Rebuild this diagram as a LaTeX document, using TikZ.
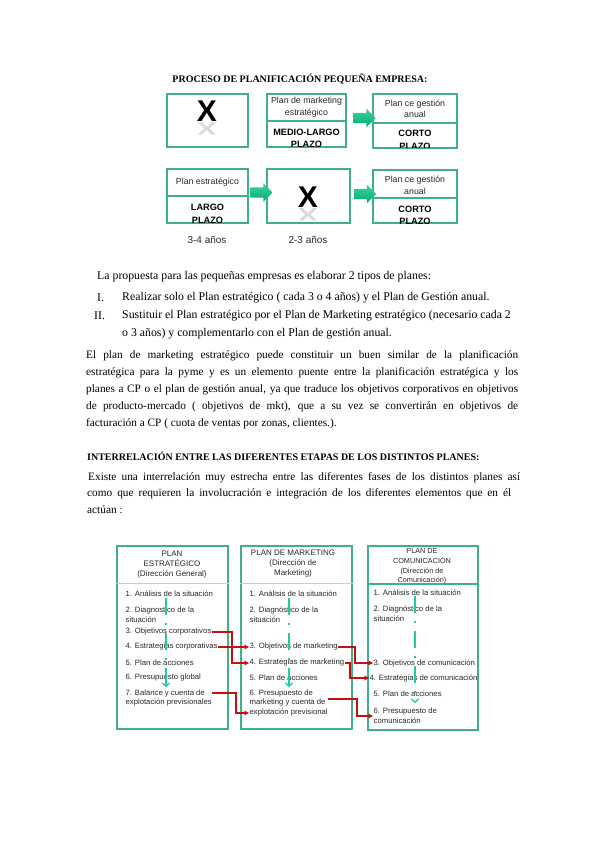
\documentclass[tikz,border=0pt]{standalone}
\usepackage{fontspec}
\setmainfont{Liberation Serif}
\setsansfont{Liberation Sans}
\usetikzlibrary{arrows.meta,shapes.arrows}

\definecolor{boxgreen}{RGB}{66,176,134}
\definecolor{flowgreen}{RGB}{0,172,120}
\definecolor{flowlight}{RGB}{60,210,160}
\definecolor{stepgreen}{RGB}{30,205,165}
\definecolor{linkred}{RGB}{196,16,16}
\definecolor{inktext}{RGB}{40,40,40}

\tikzset{
  topbox/.style={draw=boxgreen,line width=1.4pt,minimum width=81pt,minimum height=53pt,inner sep=0pt},
  topsmall/.style={font=\sffamily\fontsize{8.8}{11.5}\selectfont,text=inktext,align=center,inner sep=0pt},
  topbold/.style={font=\sffamily\bfseries\fontsize{9.2}{12.5}\selectfont,align=center,inner sep=0pt},
  bigx/.style={font=\sffamily\bfseries\fontsize{30}{30}\selectfont,inner sep=0pt},
  blockarrow/.style={single arrow,minimum height=22pt,inner xsep=0pt,inner ysep=5pt,single arrow head extend=4pt,
    draw=none,top color=flowlight,bottom color=flowgreen},
  yearlabel/.style={font=\sffamily\fontsize{10}{12}\selectfont,text=inktext},
  bodytext/.style={font=\fontsize{11.8}{13}\selectfont,anchor=west,inner sep=0pt},
  partext/.style={font=\fontsize{11.3}{13}\selectfont,anchor=west,inner sep=0pt},
  headline/.style={font=\bfseries\fontsize{10}{12}\selectfont,anchor=west,inner sep=0pt},
  colbox/.style={draw=boxgreen,line width=1.1pt,minimum width=111pt,minimum height=183pt,inner sep=0pt},
  colhead/.style={font=\sffamily\fontsize{8}{10}\selectfont,text=inktext,align=center,inner sep=0pt},
  stepitem/.style={font=\sffamily\fontsize{7.7}{9.6}\selectfont,text=inktext,align=left,anchor=west,inner sep=0.5pt},
  flowline/.style={stepgreen,line width=1.3pt,dash pattern=on 17pt off 8pt on 2pt off 8pt,
    -{Straight Barb[length=3pt,width=7pt]}},
  redlink/.style={linkred,line width=1.2pt,->},
}

\begin{document}
\begin{tikzpicture}[x=1pt,y=-1pt,>={Stealth[length=5pt,width=5pt]}]
  \useasboundingbox[fill=white] (0,0) rectangle (599,848);

  % 标题
  \node[headline,anchor=center] (title) at (300,79) {PROCESO DE PLANIFICACIÓN PEQUEÑA EMPRESA:};

  % 第一行
  \node[topbox] (xboxA) at (207.5,120.5) {};
  \node[topbox,minimum width=79pt] (mkbox) at (306.5,120.5) {};
  \node[topbox,minimum width=84pt,minimum height=54pt] (gboxA) at (415,121) {};
  \draw[boxgreen,line width=1.4pt] (mkbox.west |- 0,121) -- (mkbox.east |- 0,121);
  \draw[boxgreen,line width=1.4pt] (gboxA.west |- 0,123) -- (gboxA.east |- 0,123);
  \node[bigx,text=black!15] (xshA) at (207,129) {\scalebox{1}[-0.6]{X}};
  \node[bigx] (xA) at (207,111) {X};
  \node[topsmall] (mktop) at (306.5,107) {Plan de marketing\\estratégico};
  \node[topsmall] (gtopA) at (415,109) {Plan ce gestión\\anual};
  \begin{scope}
    \clip (mkbox.south west) rectangle (gboxA.north east);
    \node[topbold] (mkterm) at (306.5,138.5) {MEDIO-LARGO\\PLAZO};
    \node[topbold] (gtermA) at (415,140) {CORTO\\PLAZO};
  \end{scope}
  \node[blockarrow] (arrA) at (362,118) {};

  % 第二行
  \node[topbox,minimum height=54pt] (pebox) at (207.5,196) {};
  \node[topbox,minimum width=83pt,minimum height=54pt] (xboxB) at (308.5,196) {};
  \node[topbox,minimum width=84pt,minimum height=53pt] (gboxB) at (415,196.5) {};
  \draw[boxgreen,line width=1.4pt] (pebox.west |- 0,196) -- (pebox.east |- 0,196);
  \draw[boxgreen,line width=1.4pt] (gboxB.west |- 0,198) -- (gboxB.east |- 0,198);
  \node[bigx,text=black!15] (xshB) at (308,215) {\scalebox{1}[-0.6]{X}};
  \node[bigx] (xB) at (308,197) {X};
  \node[topsmall] (petop) at (207.5,182) {Plan estratégico};
  \node[topsmall] (gtopB) at (415,185.5) {Plan ce gestión\\anual};
  \begin{scope}
    \clip (pebox.south west) rectangle (gboxB.north east);
    \node[topbold] (peterm) at (207.5,214) {LARGO\\PLAZO};
    \node[topbold] (gtermB) at (415,215.5) {CORTO\\PLAZO};
  \end{scope}
  \node[blockarrow] (arrB) at (259,192.5) {};
  \node[blockarrow] (arrC) at (362.5,194) {};
  \node[yearlabel] (yrA) at (207,240) {3-4 años};
  \node[yearlabel] (yrB) at (308,240) {2-3 años};

  % 正文
  \node[bodytext] (prop) at (97,277) {La propuesta para las pequeñas empresas es elaborar 2 tipos de planes:};
  \node[bodytext] (numA) at (97,298) {I.};
  \node[bodytext] (optA) at (122,298) {Realizar solo el Plan estratégico ( cada 3 o 4 años) y el Plan de Gestión anual.};
  \node[bodytext] (numB) at (94,316) {II.};
  \node[bodytext] (optB) at (122,316) {Sustituir el Plan estratégico por el Plan de Marketing estratégico (necesario cada 2};
  \node[bodytext] (optBb) at (122,334) {o 3 años) y complementarlo con el Plan de gestión anual.};

  \node[partext] (parA) at (86,356) {\hbox to 432pt{El plan de marketing estratégico puede constituir un buen similar de la planificación}};
  \node[partext] (parB) at (86,373) {\hbox to 432pt{estratégica para la pyme y es un elemento puente entre la planificación estratégica y los}};
  \node[partext] (parC) at (86,390) {\hbox to 432pt{planes a CP o el plan de gestión anual, ya que traduce los objetivos corporativos en objetivos}};
  \node[partext] (parD) at (86,407) {\hbox to 432pt{de producto-mercado ( objetivos de mkt), que a su vez se convertirán en objetivos de}};
  \node[partext] (parE) at (86,424) {facturación a CP ( cuota de ventas por zonas, clientes.).};

  \node[headline] (inter) at (87,456) {INTERRELACIÓN ENTRE LAS DIFERENTES ETAPAS DE LOS DISTINTOS PLANES:};
  \node[partext] (exA) at (88,478) {\hbox to 432pt{Existe una interrelación muy estrecha entre las diferentes fases de los distintos planes así}};
  \node[partext] (exB) at (87,494) {\hbox to 424pt{como que requieren la involucración e integración de los diferentes elementos que en él}};
  \node[partext] (exC) at (87,510) {actúan :};

  % 三个计划
  \node[colbox] (colE) at (172.5,637.5) {};
  \node[colbox] (colM) at (296.5,637.5) {};
  \node[colbox,minimum width=110pt,minimum height=184pt] (colC) at (423,638) {};
  \draw[black!20,line width=0.6pt] (colE.west |- 0,583) -- (colE.east |- 0,583);
  \draw[black!20,line width=0.6pt] (colM.west |- 0,583) -- (colM.east |- 0,583);
  \draw[boxgreen,line width=1.1pt] (colC.west |- 0,584) -- (colC.east |- 0,584);

  \node[colhead] (headE) at (172,565) {PLAN\\ESTRATÉGICO\\(Dirección General)};
  \node[colhead] (headM) at (293,563.5) {PLAN DE MARKETING\\(Dirección de\\Marketing)};
  \node[colhead,font=\sffamily\fontsize{7.3}{9.6}\selectfont] (headC) at (422,566.5) {PLAN DE\\COMUNICACIÓN\\(Dirección de\\Comunicación)};

  \node[stepitem] (e1) at (125,594) {1. Análisis de la situación};
  \node[stepitem] (e2) at (125,614.5) {2. Diagnostico de la\\situación};
  \node[stepitem] (e3) at (125,632) {3. Objetivos corporativos};
  \node[stepitem] (e4) at (125,647) {4. Estrategias corporativas};
  \node[stepitem] (e5) at (125,663) {5. Plan de acciones};
  \node[stepitem] (e6) at (125,678) {6. Presupuesto global};
  \node[stepitem] (e7) at (125,698) {7. Balance y cuenta de\\explotación previsionales};

  \node[stepitem] (m1) at (249,594) {1. Análisis de la situación};
  \node[stepitem] (m2) at (249,614.5) {2. Diagnóstico de la\\situación};
  \node[stepitem] (m3) at (249,647) {3. Objetivos de marketing};
  \node[stepitem] (m4) at (249,663) {4. Estrategias de marketing};
  \node[stepitem] (m5) at (249,678) {5. Plan de acciones};
  \node[stepitem] (m6) at (249,703) {6. Presupuesto de\\marketing y cuenta de\\explotación previsional};

  \node[stepitem] (c1) at (373,593) {1. Análisis de la situación};
  \node[stepitem] (c2) at (373,613.5) {2. Diagnóstico de la\\situación};
  \node[stepitem] (c3) at (373,663) {3. Objetivos de comunicación};
  \node[stepitem] (c4) at (369,678) {4. Estrategias de comunicación};
  \node[stepitem] (c5) at (373,694) {5. Plan de acciones};
  \node[stepitem] (c6) at (373,716) {6. Presupuesto de\\comunicación};

  % 流程箭头
  \coordinate (fE0) at (166,598);
  \coordinate (fE1) at (166,687);
  \coordinate (fM0) at (289,598);
  \coordinate (fM1) at (289,687);
  \coordinate (fC0) at (415,596);
  \coordinate (fC1) at (415,703);
  \draw[flowline] (fE0) -- (fE1);
  \draw[flowline] (fM0) -- (fM1);
  \draw[flowline] (fC0) -- (fC1);

  % 红色连线
  \coordinate (kE) at (232,0);
  \coordinate (kEb) at (236,0);
  \coordinate (kM) at (355,0);
  \coordinate (kMb) at (350,0);
  \coordinate (kMc) at (357,0);
  \draw[redlink] (e3.east) -- (e3.east -| kE) |- (m3.west);
  \draw[redlink] (e4.east) -- (e4.east -| kE) |- (m4.west);
  \draw[redlink] ([yshift=5pt]e7.east) -- ([yshift=5pt]e7.east -| kEb) |- ([yshift=-10pt]m6.west);
  \draw[redlink] (m3.east) -- (m3.east -| kM) |- (c3.west);
  \draw[redlink] (m4.east) -- (m4.east -| kMb) |- (c4.west);
  \draw[redlink] ([yshift=4pt]m6.east) -- ([yshift=4pt]m6.east -| kMc) |- (c6.west);
\end{tikzpicture}
\end{document}
